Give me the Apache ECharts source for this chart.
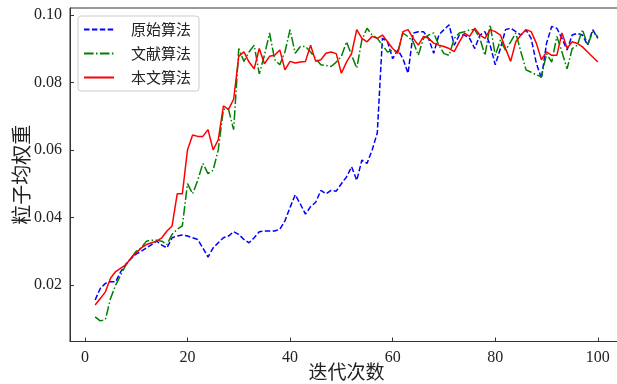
<!DOCTYPE html>
<html>
<head>
<meta charset="utf-8">
<script src="https://cdn.jsdelivr.net/npm/echarts@6/dist/echarts.min.js"></script>
<style>html,body{margin:0;padding:0;background:#fff}#c{width:617px;height:384px}</style>
</head>
<body>
<div id="c"></div>
<script>
// iterations 2..100
const iterations = [];
for (let i = 2; i <= 100; i++) iterations.push(i);

const seriesNames = ['原始算法', '文献算法', '本文算法'];
const xTicks = [0, 20, 40, 60, 80, 100];
const yTicks = [0.02, 0.04, 0.06, 0.08, 0.10];

// 原始算法 (blue dashed)
const original = [
  0.0156, 0.019, 0.0205, 0.021, 0.021, 0.024, 0.0262, 0.0278, 0.0292,   // 2-10
  0.030, 0.031, 0.032, 0.033, 0.0318, 0.031, 0.034, 0.0345, 0.0348, 0.0345, // 11-20
  0.034, 0.0335, 0.031, 0.0283, 0.031, 0.0325, 0.034, 0.0345, 0.0358, 0.035, // 21-30
  0.0335, 0.0325, 0.034, 0.0358, 0.036, 0.036, 0.036, 0.0365, 0.039, 0.043, // 31-40
  0.0467, 0.044, 0.041, 0.0432, 0.0445, 0.048, 0.047, 0.048, 0.0478, 0.050, // 41-50
  0.052, 0.055, 0.051, 0.057, 0.056, 0.060, 0.065, 0.093, 0.092, 0.087,   // 51-60
  0.0896, 0.087, 0.0827, 0.0946, 0.095, 0.095, 0.093, 0.0886, 0.094, 0.0956, // 61-70
  0.097, 0.091, 0.094, 0.094, 0.093, 0.090, 0.094, 0.095, 0.091, 0.0852,  // 71-80
  0.090, 0.0956, 0.096, 0.095, 0.094, 0.0955, 0.093, 0.0857, 0.0812, 0.0916, // 81-90
  0.0965, 0.096, 0.093, 0.0896, 0.094, 0.0945, 0.094, 0.091, 0.0956, 0.093  // 91-100
];
// 文献算法 (green dash-dot)
const literature = [
  0.0106, 0.0094, 0.0098, 0.016, 0.020, 0.023, 0.026, 0.028, 0.030,       // 2-10
  0.031, 0.033, 0.0333, 0.0333, 0.033, 0.032, 0.035, 0.0365, 0.0375, 0.050, // 11-20
  0.047, 0.051, 0.056, 0.053, 0.054, 0.060, 0.072, 0.072, 0.066, 0.090,   // 21-30
  0.0862, 0.089, 0.091, 0.0825, 0.088, 0.0946, 0.0867, 0.0852, 0.089, 0.0956, // 31-40
  0.0886, 0.0906, 0.0906, 0.089, 0.087, 0.0852, 0.085, 0.0847, 0.086, 0.0877, // 41-50
  0.092, 0.088, 0.0842, 0.0926, 0.096, 0.094, 0.093, 0.091, 0.089, 0.0895, // 51-60
  0.089, 0.0946, 0.0935, 0.092, 0.088, 0.093, 0.094, 0.0946, 0.091, 0.0885, // 61-70
  0.088, 0.093, 0.0946, 0.095, 0.0955, 0.0956, 0.093, 0.088, 0.097, 0.088, // 71-80
  0.0925, 0.0895, 0.092, 0.0946, 0.089, 0.0837, 0.083, 0.0822, 0.0817, 0.0885, // 81-90
  0.086, 0.0936, 0.089, 0.084, 0.090, 0.091, 0.0956, 0.091, 0.095, 0.0935 // 91-100
];
// 本文算法 (red solid)
const proposed = [
  0.0141, 0.016, 0.018, 0.022, 0.024, 0.025, 0.026, 0.028, 0.0295,        // 2-10
  0.031, 0.032, 0.0325, 0.033, 0.034, 0.036, 0.0375, 0.047, 0.047, 0.060, // 11-20
  0.0644, 0.064, 0.064, 0.066, 0.060, 0.063, 0.073, 0.072, 0.075, 0.0877, // 21-30
  0.089, 0.086, 0.084, 0.090, 0.0855, 0.0877, 0.088, 0.0896, 0.0837, 0.0862, // 31-40
  0.0857, 0.086, 0.0862, 0.091, 0.0862, 0.0867, 0.0886, 0.089, 0.0885, 0.0827, // 41-50
  0.086, 0.0886, 0.0956, 0.093, 0.092, 0.0936, 0.093, 0.094, 0.092, 0.090, // 51-60
  0.0886, 0.095, 0.0956, 0.093, 0.091, 0.0936, 0.093, 0.0916, 0.091, 0.0906, // 61-70
  0.090, 0.0891, 0.092, 0.0946, 0.0936, 0.096, 0.094, 0.093, 0.0956, 0.095, // 71-80
  0.094, 0.090, 0.0862, 0.092, 0.094, 0.0956, 0.095, 0.0916, 0.0867, 0.089, // 81-90
  0.088, 0.088, 0.0946, 0.0901, 0.092, 0.0915, 0.0905, 0.089, 0.0875, 0.086 // 91-100
];

const pair = arr => iterations.map((x, i) => [x, arr[i]]);

const serif = '"Liberation Serif", "Times New Roman", serif';
const cjk = '"Noto Sans CJK SC", sans-serif';

const chart = echarts.init(document.getElementById('c'), null, {renderer: 'canvas'});
chart.setOption({
  animation: false,
  backgroundColor: '#fff',
  grid: {left: 70, top: 8, right: -6, bottom: 42.5, show: true, borderColor: '#333', borderWidth: 1,
         containLabel: false, outerBoundsMode: 'none'},
  legend: {
    left: 78, top: 16,
    orient: 'vertical',
    itemWidth: 30, itemHeight: 14, itemGap: 9,
    padding: [6, 8, 6, 5],
    borderColor: '#ccc', borderWidth: 1, borderRadius: 3,
    backgroundColor: 'rgba(255,255,255,0.8)',
    itemStyle: {opacity: 0},
    textStyle: {fontFamily: cjk, fontSize: 15, color: '#222', padding: [0, 0, 0, 12], lineHeight: 15},
    data: seriesNames
  },
  xAxis: {
    type: 'value', min: -2.9, max: 104.9,
    name: '迭代次数', nameLocation: 'middle', nameGap: 21, nameMoveOverlap: false,
    nameTextStyle: {fontFamily: cjk, fontSize: 19, color: '#222'},
    axisLine: {show: true, onZero: false, lineStyle: {color: '#333', width: 1}},
    axisTick: {show: true, inside: true, length: 4, customValues: xTicks, lineStyle: {color: '#333'}},
    axisLabel: {customValues: xTicks, fontFamily: serif, fontSize: 16, color: '#222', margin: 8},
    splitLine: {show: false}
  },
  yAxis: {
    type: 'value', min: 0.0033, max: 0.102,
    name: '粒子均权重', nameLocation: 'middle', nameGap: 39, nameMoveOverlap: false,
    nameTextStyle: {fontFamily: cjk, fontSize: 20, color: '#222'},
    axisLine: {show: true, onZero: false, lineStyle: {color: '#333', width: 1}},
    axisTick: {show: true, inside: true, length: 4, customValues: yTicks, lineStyle: {color: '#333'}},
    axisLabel: {customValues: yTicks, formatter: v => v.toFixed(2), fontFamily: serif, fontSize: 16, color: '#222', margin: 8},
    splitLine: {show: false}
  },
  series: [
    {name: seriesNames[0], type: 'line', data: pair(original), showSymbol: false, symbol: 'none',
     lineStyle: {color: '#0000ff', width: 1.5, type: [5.5, 2.4]}, itemStyle: {color: '#0000ff'}},
    {name: seriesNames[1], type: 'line', data: pair(literature), showSymbol: false, symbol: 'none',
     lineStyle: {color: '#008000', width: 1.5, type: [9.6, 2.4, 1.5, 2.4]}, itemStyle: {color: '#008000'}},
    {name: seriesNames[2], type: 'line', data: pair(proposed), showSymbol: false, symbol: 'none',
     lineStyle: {color: '#ff0000', width: 1.5}, itemStyle: {color: '#ff0000'}}
  ]
});
</script>
</body>
</html>
